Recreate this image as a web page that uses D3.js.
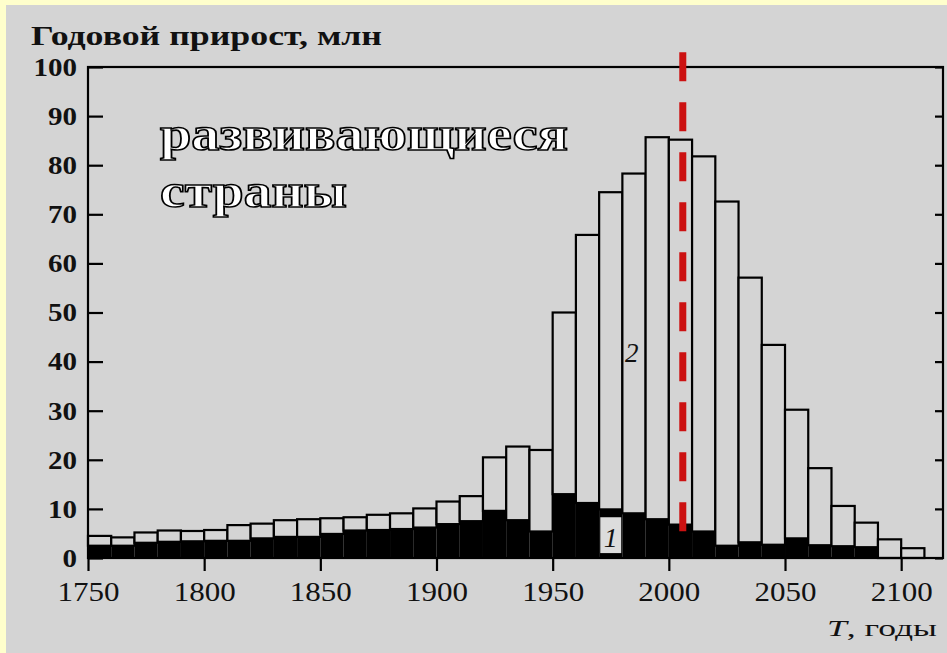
<!DOCTYPE html>
<html>
<head>
<meta charset="utf-8">
<script src="https://cdn.jsdelivr.net/npm/d3@7"></script>
<style>
  body { margin: 0; background: #ffffcc; }
  svg { display: block; }
</style>
</head>
<body>
<div id="canvas"></div>
<script>
(function(d3){

  // decade start years, one bar per decade
  var years = [1750, 1760, 1770, 1780, 1790, 1800, 1810, 1820, 1830, 1840,
               1850, 1860, 1870, 1880, 1890, 1900, 1910, 1920, 1930, 1940,
               1950, 1960, 1970, 1980, 1990, 2000, 2010, 2020, 2030, 2040,
               2050, 2060, 2070, 2080, 2090, 2100];

  // total annual growth, mln (top of white box, curve 2)
  var totalGrowth = [4.5, 4.2, 5.2, 5.6, 5.5, 5.7, 6.7, 7.0, 7.7, 7.9,
                     8.1, 8.3, 8.8, 9.1, 10.1, 11.5, 12.6, 20.5, 22.7, 22.0,
                     50.0, 65.8, 74.5, 78.3, 85.7, 85.2, 81.8, 72.6, 57.1, 43.4,
                     30.2, 18.3, 10.6, 7.2, 3.8, 2.0];

  // black part, curve 1
  var blackGrowth = [2.5, 2.5, 3.1, 3.3, 3.4, 3.5, 3.5, 4.0, 4.3, 4.3,
                     4.9, 5.6, 5.7, 5.9, 6.2, 6.9, 7.5, 9.6, 7.7, 5.4,
                     13.0, 11.2, 9.9, 9.1, 7.9, 6.8, 5.4, 2.5, 3.2, 2.7,
                     4.0, 2.6, 2.4, 2.2, 0, 0];

  var yTicks = [0, 10, 20, 30, 40, 50, 60, 70, 80, 90, 100],
      xTicks = [1750, 1800, 1850, 1900, 1950, 2000, 2050, 2100],
      markerYear = 2006,
      barSpan = 10;

  var canvas_d = {width: 947, height: 653},
      bg = '#d4d4d4',
      serif = '"Liberation Serif", "Times New Roman", serif';

  var x = d3.scaleLinear().domain([1750, 2118]).range([88, 943]),
      y = d3.scaleLinear().domain([0, 100]).range([558, 67]);

  var svg = d3.select('#canvas').append('svg')
      .attr('width', canvas_d.width)
      .attr('height', canvas_d.height);

  svg.append('rect')
      .attr('width', canvas_d.width).attr('height', canvas_d.height)
      .attr('fill', '#ffffcc');
  svg.append('rect')
      .attr('x', 6).attr('y', 5)
      .attr('width', canvas_d.width - 6).attr('height', canvas_d.height - 5)
      .attr('fill', bg);

  /**
   * Bars: black base, outlined box on top of it
   */
  var bars = svg.append('g');

  bars.selectAll('rect.black')
      .data(years)
    .enter().append('rect')
      .attr('class', 'black')
      .attr('x', function(d){ return x(d); })
      .attr('width', function(d){ return x(d + barSpan) - x(d); })
      .attr('y', function(d, i){ return y(blackGrowth[i]); })
      .attr('height', function(d, i){ return y(0) - y(blackGrowth[i]); })
      .attr('fill', '#000');

  bars.selectAll('rect.box')
      .data(years)
    .enter().append('rect')
      .attr('class', 'box')
      .attr('x', function(d){ return x(d); })
      .attr('width', function(d){ return x(d + barSpan) - x(d); })
      .attr('y', function(d, i){ return y(totalGrowth[i]); })
      .attr('height', function(d, i){ return y(blackGrowth[i]) - y(totalGrowth[i]); })
      .attr('fill', bg)
      .attr('stroke', '#000')
      .attr('stroke-width', 2.2);

  /**
   * Frame and axes
   */
  svg.append('rect')
      .attr('x', x(1750)).attr('y', y(100))
      .attr('width', x(2118) - x(1750)).attr('height', y(0) - y(100))
      .attr('fill', 'none').attr('stroke', '#000').attr('stroke-width', 2.2);

  var yAxis = svg.append('g')
      .attr('transform', 'translate(' + x(1750) + ',0)')
      .call(d3.axisLeft(y).tickValues(yTicks).tickSize(-15).tickPadding(11));

  var rAxis = svg.append('g')
      .attr('transform', 'translate(' + x(2118) + ',0)')
      .call(d3.axisRight(y).tickValues(yTicks).tickSize(-8).tickFormat(''));

  var xAxis = svg.append('g')
      .attr('transform', 'translate(0,' + y(0) + ')')
      .call(d3.axisBottom(x).tickValues(xTicks).tickFormat(d3.format('d'))
        .tickSize(13).tickPadding(10));

  [yAxis, rAxis, xAxis].forEach(function(a){
    a.select('.domain').remove();
    a.selectAll('line').attr('stroke', '#000').attr('stroke-width', 2.2);
  });

  yAxis.selectAll('text')
      .attr('font-family', serif).attr('font-size', 26).attr('font-weight', 'bold')
      .attr('fill', '#111')
      .attr('textLength', function(d){ return String(d).length * 14.5; })
      .attr('lengthAdjust', 'spacingAndGlyphs');

  xAxis.selectAll('text')
      .attr('font-family', serif).attr('font-size', 28)
      .attr('fill', '#111')
      .attr('textLength', function(d){ return String(d).length * 15.5; })
      .attr('lengthAdjust', 'spacingAndGlyphs');

  /**
   * Titles
   */
  svg.append('text')
      .attr('x', 31).attr('y', 45)
      .attr('font-family', serif).attr('font-size', 27).attr('font-weight', 'bold')
      .attr('fill', '#111')
      .attr('textLength', 351).attr('lengthAdjust', 'spacingAndGlyphs')
      .text('Годовой прирост, млн');

  var xt = svg.append('text')
      .attr('x', 937).attr('y', 636)
      .attr('text-anchor', 'end')
      .attr('font-family', serif).attr('font-size', 24)
      .attr('fill', '#111')
      .attr('textLength', 110).attr('lengthAdjust', 'spacingAndGlyphs');
  xt.append('tspan').attr('font-style', 'italic').text('T');
  xt.append('tspan').text(', годы');

  // outlined caption
  [['развивающиеся', 150, 408], ['страны', 207, 187]].forEach(function(l){
    svg.append('text')
        .attr('x', 160).attr('y', l[1])
        .attr('font-family', serif).attr('font-size', 49).attr('font-weight', 'bold')
        .attr('fill', '#fff').attr('stroke', '#000').attr('stroke-width', 1.6)
        .attr('textLength', l[2]).attr('lengthAdjust', 'spacingAndGlyphs')
        .text(l[0]);
  });

  // curve labels
  svg.append('text')
      .attr('x', x(1984)).attr('y', y(40))
      .attr('text-anchor', 'middle')
      .attr('font-family', serif).attr('font-size', 27).attr('font-style', 'italic')
      .attr('fill', '#111')
      .text('2');

  svg.append('rect')
      .attr('x', x(1970.5)).attr('y', y(8.3))
      .attr('width', x(1979.5) - x(1970.5)).attr('height', y(1) - y(8.3))
      .attr('fill', '#dcdcdc');
  svg.append('text')
      .attr('x', x(1975)).attr('y', y(2.2))
      .attr('text-anchor', 'middle')
      .attr('font-family', serif).attr('font-size', 28).attr('font-style', 'italic')
      .attr('fill', '#111')
      .text('1');

  /**
   * Red dashed marker
   */
  svg.append('line')
      .attr('x1', x(markerYear)).attr('x2', x(markerYear))
      .attr('y1', y(103)).attr('y2', y(5))
      .attr('stroke', '#cc1111')
      .attr('stroke-width', 7)
      .attr('stroke-dasharray', '29,21');

})(d3);
</script>
</body>
</html>
